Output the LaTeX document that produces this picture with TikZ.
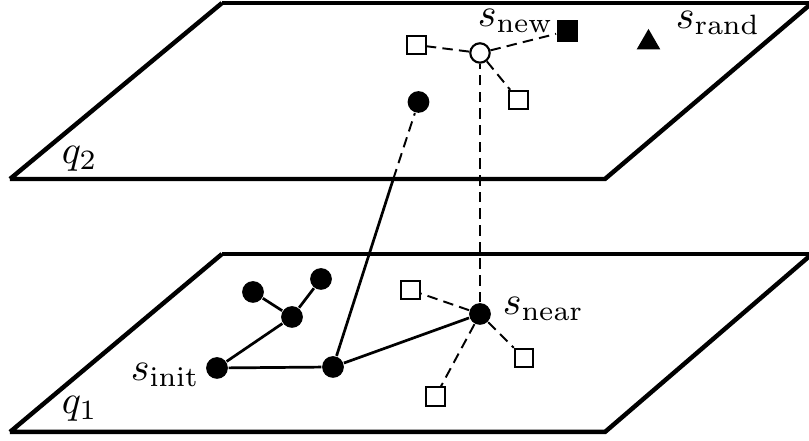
\documentclass[tikz,border=0pt]{standalone}
\usetikzlibrary{shapes.geometric}
\begin{document}
\begin{tikzpicture}[x=0.2577pt,y=-0.2577pt,
  plane/.style={line width=1.15pt,line join=miter},
  edge/.style={line width=0.7pt},
  dedge/.style={line width=0.5pt,dash pattern=on 2.7pt off 1.6pt},
  fnode/.style={circle,fill=black,inner sep=0pt,minimum size=5.6pt},
  hnode/.style={circle,draw=black,fill=white,line width=0.55pt,inner sep=0pt,minimum size=5pt},
  sq/.style={rectangle,draw=black,fill=white,line width=0.55pt,inner sep=0pt,minimum size=4.7pt},
  fsq/.style={rectangle,fill=black,inner sep=0pt,minimum size=5.5pt},
  tri/.style={regular polygon,regular polygon sides=3,fill=black,inner sep=0pt,minimum size=7pt},
  lbl/.style={inner sep=0pt,anchor=base west,scale=1.03}]
\useasboundingbox (0,0) rectangle (809,441);
% planes
\coordinate (p2a) at (10,179);
\coordinate (p2b) at (605,179);
\coordinate (p2c) at (812,3);
\coordinate (p2d) at (222,3);
\coordinate (p1a) at (10,432);
\coordinate (p1b) at (605,432);
\coordinate (p1c) at (812,254);
\coordinate (p1d) at (222,254);
\draw[plane] (p2a) -- (p2b) -- (p2c) (p2d) -- (p2a);
\draw[plane] (p2d) -- (812,3);
\draw[plane] (p1a) -- (p1b) -- (p1c) (p1d) -- (p1a);
\draw[plane] (p1d) -- (812,254);
\node[lbl] (q2) at (61,164) {$q_2$};
\node[lbl] (q1) at (61,414) {$q_1$};
% lower tree
\node[fnode] (init) at (217,368) {};
\node[fnode] (mid) at (333,367) {};
\node[fnode] (br) at (292,317) {};
\node[fnode] (l1) at (253,292) {};
\node[fnode] (l2) at (321,279) {};
\node[fnode] (near) at (480,314) {};
\node[sq] (n1) at (410.5,290) {};
\node[sq] (n2) at (524,358) {};
\node[sq] (n3) at (435.5,396.5) {};
\node[lbl] (linit) at (130,381) {$s_{\mathrm{init}}$};
\node[lbl] (lnear) at (502,315) {$s_{\mathrm{near}}$};
% upper
\node[fnode] (up) at (418.5,102) {};
\node[hnode] (new) at (480,53) {};
\node[sq] (u1) at (416.5,45) {};
\node[sq] (u2) at (518.5,100) {};
\node[fsq] (fs) at (567.5,31) {};
\node[tri] (rand) at (648.5,42.5) {};
\node[lbl] (lnew) at (477,26.5) {$s_{\mathrm{new}}$};
\node[lbl] (lrand) at (675,29) {$s_{\mathrm{rand}}$};
% connectors
\coordinate (cross) at (393.3,179);
\draw[edge] (init) -- (br) (br) -- (l1) (br) -- (l2);
\draw[edge] (init) -- (mid) (mid) -- (near);
\draw[edge] (mid) -- (cross);
\draw[dedge] (cross) -- (up);
\draw[dedge] (near) -- (n1) (near) -- (n2) (near) -- (n3);
\draw[dedge] (near) -- (new);
\draw[dedge] (new) -- (u1) (new) -- (u2) (new) -- (fs);
\end{tikzpicture}
\end{document}
